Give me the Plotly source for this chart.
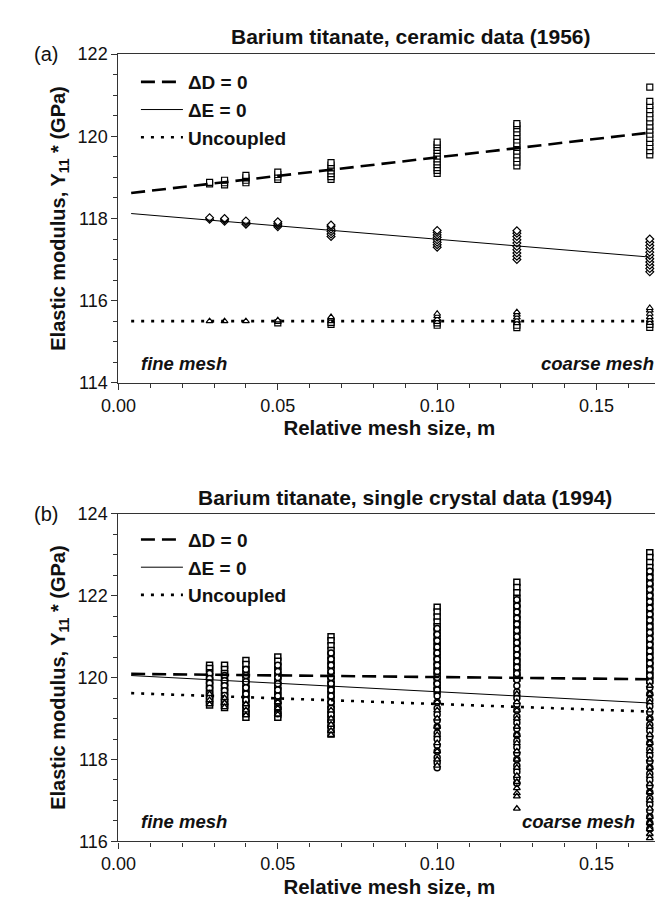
import plotly.graph_objects as go

# ---------------- data ----------------
MESH = [0.0286, 0.0333, 0.04, 0.05, 0.0667, 0.1, 0.125, 0.1667]
LINE_X = [0.004, 0.1667]

# Panel (a): ceramic data (1956)
A_TITLE = "Barium titanate, ceramic data (1956)"
A_LINE_D = [118.62, 120.09]
A_LINE_E = [118.12, 117.06]
A_LINE_U = [115.5, 115.5]
A_SQ = [
    [118.84, 118.88],
    [118.82, 118.87, 118.93],
    [118.87, 118.93, 118.99, 119.05],
    [118.95, 119.01, 119.07, 119.13],
    [118.95, 119.02, 119.09, 119.16, 119.23, 119.3, 119.36],
    [119.1, 119.17, 119.24, 119.31, 119.38, 119.45, 119.52, 119.59, 119.66, 119.73, 119.8, 119.86],
    [119.28, 119.37, 119.46, 119.55, 119.64, 119.73, 119.82, 119.91, 120.0, 120.09, 120.18, 120.26, 120.31],
    [119.55, 119.65, 119.75, 119.85, 119.95, 120.05, 120.15, 120.25, 120.35, 120.45, 120.55, 120.65, 120.75, 120.85, 121.2],
]
A_DI = [
    [117.98, 118.02],
    [117.93, 117.97, 118.0],
    [117.86, 117.9, 117.94],
    [117.8, 117.84, 117.88, 117.92],
    [117.56, 117.62, 117.68, 117.74, 117.8, 117.84],
    [117.3, 117.36, 117.42, 117.48, 117.54, 117.6, 117.66, 117.71],
    [117.0, 117.08, 117.16, 117.24, 117.32, 117.4, 117.48, 117.56, 117.64, 117.7],
    [116.7, 116.78, 116.86, 116.94, 117.02, 117.1, 117.18, 117.26, 117.34, 117.42, 117.5],
]
A_TR = [
    [115.5],
    [115.5],
    [115.5],
    [115.48, 115.52],
    [115.5, 115.56, 115.6],
    [115.48, 115.55, 115.62, 115.68],
    [115.45, 115.52, 115.59, 115.66, 115.72],
    [115.46, 115.53, 115.6, 115.68, 115.76, 115.82],
]
A_TR_SQ = [
    [],
    [],
    [],
    [115.46],
    [115.42, 115.47],
    [115.4, 115.46],
    [115.34, 115.4],
    [115.35, 115.42],
]

# Panel (b): single crystal data (1994)
B_TITLE = "Barium titanate, single crystal data (1994)"
B_LINE_D = [120.09, 119.96]
B_LINE_E = [120.05, 119.38]
B_LINE_U = [119.62, 119.17]
B_SQ = [
    [120.30, 120.22, 120.12, 120.02, 119.92, 119.82, 119.72, 119.62, 119.52, 119.42, 119.33],
    [120.3, 120.2, 120.1, 119.99, 119.88, 119.77, 119.66, 119.55, 119.44, 119.35, 119.27],
    [120.42, 120.32, 120.2, 120.08, 119.96, 119.84, 119.72, 119.6, 119.48, 119.36, 119.24, 119.13, 119.03],
    [120.5, 120.4, 120.28, 120.16, 120.04, 119.92, 119.8, 119.68, 119.56, 119.44, 119.32, 119.2, 119.1, 119.03],
    [121.0, 120.9, 120.78, 120.66, 120.54, 120.42, 120.3, 120.18, 120.06, 119.94, 119.82, 119.7,
     119.58, 119.46, 119.34, 119.22, 119.1, 118.98, 118.86, 118.74, 118.62],
    [121.72, 121.6, 121.48, 121.36, 121.24, 121.12, 121.0, 120.88, 120.76, 120.64, 120.52, 120.4,
     120.28, 120.16, 120.04, 119.92, 119.8, 119.68],
    [122.33, 122.2, 122.07, 121.94, 121.81, 121.68, 121.55, 121.42, 121.29, 121.16, 121.03, 120.9,
     120.77, 120.64, 120.51, 120.38, 120.25, 120.12, 119.99],
    [123.05, 122.93, 122.81, 122.69, 122.57, 122.45, 122.33, 122.21, 122.09, 121.97, 121.85, 121.73,
     121.61, 121.49, 121.37, 121.25, 121.13, 121.01, 120.89, 120.77, 120.65, 120.53, 120.41, 120.29,
     120.17, 120.05, 119.93],
]
B_DI = [
    [120.1, 119.98, 119.86, 119.74, 119.62, 119.5, 119.4],
    [120.05, 119.92, 119.8, 119.68, 119.56, 119.44, 119.33],
    [120.2, 120.05, 119.9, 119.75, 119.6, 119.45, 119.3, 119.15],
    [120.3, 120.15, 120.0, 119.85, 119.7, 119.55, 119.4, 119.25, 119.12],
    [120.6, 120.45, 120.3, 120.15, 120.0, 119.85, 119.7, 119.55, 119.4, 119.25, 119.1, 118.95, 118.8],
    [121.2, 121.05, 120.9, 120.75, 120.6, 120.45, 120.3, 120.15, 120.0, 119.85, 119.7, 119.55,
     119.4, 119.25, 119.1, 118.95, 118.8, 118.65, 118.5, 118.35, 118.2, 118.05, 117.92, 117.8],
    [121.9, 121.75, 121.6, 121.45, 121.3, 121.15, 121.0, 120.85, 120.7, 120.55, 120.4, 120.25,
     120.1, 119.95, 119.8, 119.65, 119.5, 119.35, 119.2, 119.05, 118.9, 118.75, 118.6, 118.45,
     118.3, 118.15, 118.0, 117.85, 117.7, 117.55, 117.42],
    [122.6, 122.45, 122.3, 122.15, 122.0, 121.85, 121.7, 121.55, 121.4, 121.25, 121.1, 120.95,
     120.8, 120.65, 120.5, 120.35, 120.2, 120.05, 119.9, 119.75, 119.6, 119.45, 119.3, 119.15,
     119.0, 118.85, 118.7, 118.55, 118.4, 118.25, 118.1, 117.95, 117.8, 117.65, 117.5, 117.35,
     117.2, 117.05, 116.9, 116.75, 116.6, 116.45, 116.3],
]
B_TR = [
    [119.6, 119.45, 119.35],
    [119.5, 119.38, 119.28],
    [119.35, 119.2, 119.08],
    [119.4, 119.25, 119.1],
    [119.2, 119.0, 118.85, 118.7, 118.6],
    [119.4, 119.2, 119.0, 118.8, 118.6, 118.4, 118.2, 118.0, 117.85],
    [119.6, 119.4, 119.2, 119.0, 118.8, 118.6, 118.4, 118.2, 118.0, 117.8, 117.6, 117.45,
     117.3, 117.18, 117.1, 116.8],
    [119.8, 119.6, 119.4, 119.2, 119.0, 118.8, 118.6, 118.4, 118.2, 118.0, 117.8, 117.6,
     117.4, 117.2, 117.0, 116.8, 116.6, 116.45, 116.3, 116.18, 116.08],
]

LEGEND_NAMES = ["\u0394D = 0", "\u0394E = 0", "Uncoupled"]
X_TITLE = "Relative mesh size, m"
Y_TITLE = "Elastic modulus, Y<sub>11</sub> * (GPa)"

# ---------------- figure ----------------
FONT = "Liberation Sans, Arial, sans-serif"
fig = go.Figure()


def flat(cols):
    xs, ys = [], []
    for x, vals in zip(MESH, cols):
        for v in vals:
            xs.append(x)
            ys.append(v)
    return xs, ys


def add_markers(cols, symbol, xa, ya, lw=1.2):
    xs, ys = flat(cols)
    fig.add_trace(go.Scatter(
        x=xs, y=ys, mode="markers", xaxis=xa, yaxis=ya, showlegend=False,
        marker=dict(symbol=symbol, size=6, color="white",
                    line=dict(color="black", width=lw)),
        hoverinfo="skip"))


def add_lines(d, e, u, xa, ya, leg):
    styles = [dict(dash="14px,7px", width=2.6), dict(dash="solid", width=1),
              dict(dash="3px,7px", width=2.6)]
    for name, yv, st in zip(LEGEND_NAMES, [d, e, u], styles):
        fig.add_trace(go.Scatter(
            x=LINE_X, y=yv, mode="lines", name=name, xaxis=xa, yaxis=ya,
            legend=leg, line=dict(color="black", **st)))


add_markers(A_SQ, "square", "x", "y")
add_markers(A_DI, "diamond", "x", "y")
add_markers(A_TR_SQ, "square", "x", "y")
add_markers(A_TR, "triangle-up", "x", "y")
add_lines(A_LINE_D, A_LINE_E, A_LINE_U, "x", "y", "legend")

add_markers(B_SQ, "square", "x2", "y2", 1.5)
add_markers(B_DI, "circle", "x2", "y2", 1.5)
add_markers(B_TR, "triangle-up", "x2", "y2", 1.4)
add_lines(B_LINE_D, B_LINE_E, B_LINE_U, "x2", "y2", "legend2")

W, H = 663, 905
XD = [95 / W, 652 / W]
YA = [1 - 373 / H, 1 - 37 / H]
YB = [1 - 842 / H, 1 - 507 / H]

axis_common = dict(
    showline=True, linecolor="#333", linewidth=1.3, mirror=True,
    ticks="outside", ticklen=6, tickwidth=1.2, tickcolor="#333",
    showgrid=False, zeroline=False,
    tickfont=dict(family=FONT, size=18, color="#111"),
)
xcommon = dict(axis_common, range=[0, 0.17], dtick=0.05, tick0=0, tickformat=".2f",
               minor=dict(dtick=0.01, ticks="outside", ticklen=4, tickcolor="#333"),
               title=dict(text=X_TITLE, font=dict(family=FONT, size=20.5, color="#111",
                                                  weight="bold"), standoff=6))
ycommon = dict(axis_common, dtick=2,
               minor=dict(dtick=0.5, ticks="outside", ticklen=4, tickcolor="#333"),
               title=dict(text=Y_TITLE, font=dict(family=FONT, size=20, color="#111",
                                                  weight="bold"), standoff=6))

legend_common = dict(
    xanchor="left", yanchor="top", bgcolor="rgba(0,0,0,0)",
    font=dict(family=FONT, size=19, color="#111", weight="bold"),
    itemwidth=42, tracegroupgap=0, borderwidth=0,
)

fig.update_layout(
    width=W, height=H, margin=dict(l=0, r=0, t=0, b=0),
    plot_bgcolor="white", paper_bgcolor="white",
    showlegend=True,
    xaxis=dict(xcommon, domain=XD, anchor="y"),
    yaxis=dict(ycommon, domain=YA, anchor="x", range=[114, 122]),
    xaxis2=dict(xcommon, domain=XD, anchor="y2"),
    yaxis2=dict(ycommon, domain=YB, anchor="x2", range=[116, 124]),
    legend=dict(legend_common, x=113 / W, y=1 - 46 / H),
    legend2=dict(legend_common, x=113 / W, y=1 - 514 / H),
)

title_font = dict(family=FONT, size=21, color="#111", weight="bold")
label_font = dict(family=FONT, size=20, color="#111")
mesh_font = dict(family=FONT, size=18.5, color="#111", weight="bold", style="italic")

fig.add_annotation(text=A_TITLE, x=395 / W, y=1 - 19 / H, xref="paper", yref="paper",
                   showarrow=False, font=title_font, xanchor="center", yanchor="middle")
fig.add_annotation(text=B_TITLE, x=390 / W, y=1 - 490 / H, xref="paper", yref="paper",
                   showarrow=False, font=title_font, xanchor="center", yanchor="middle")
fig.add_annotation(text="(a)", x=6 / W, y=1 - 37 / H, xref="paper", yref="paper",
                   showarrow=False, font=label_font, xanchor="left", yanchor="middle")
fig.add_annotation(text="(b)", x=6 / W, y=1 - 507 / H, xref="paper", yref="paper",
                   showarrow=False, font=label_font, xanchor="left", yanchor="middle")

fig.add_annotation(text="fine mesh", x=0.0065, y=114.48, xref="x", yref="y",
                   showarrow=False, font=mesh_font, xanchor="left", yanchor="middle")
fig.add_annotation(text="coarse mesh", x=0.1688, y=114.48, xref="x", yref="y",
                   showarrow=False, font=mesh_font, xanchor="right", yanchor="middle")
fig.add_annotation(text="fine mesh", x=0.0065, y=116.48, xref="x2", yref="y2",
                   showarrow=False, font=mesh_font, xanchor="left", yanchor="middle")
fig.add_annotation(text="coarse mesh", x=0.1628, y=116.48, xref="x2", yref="y2",
                   showarrow=False, font=mesh_font, xanchor="right", yanchor="middle")

fig.write_html("out.html")
